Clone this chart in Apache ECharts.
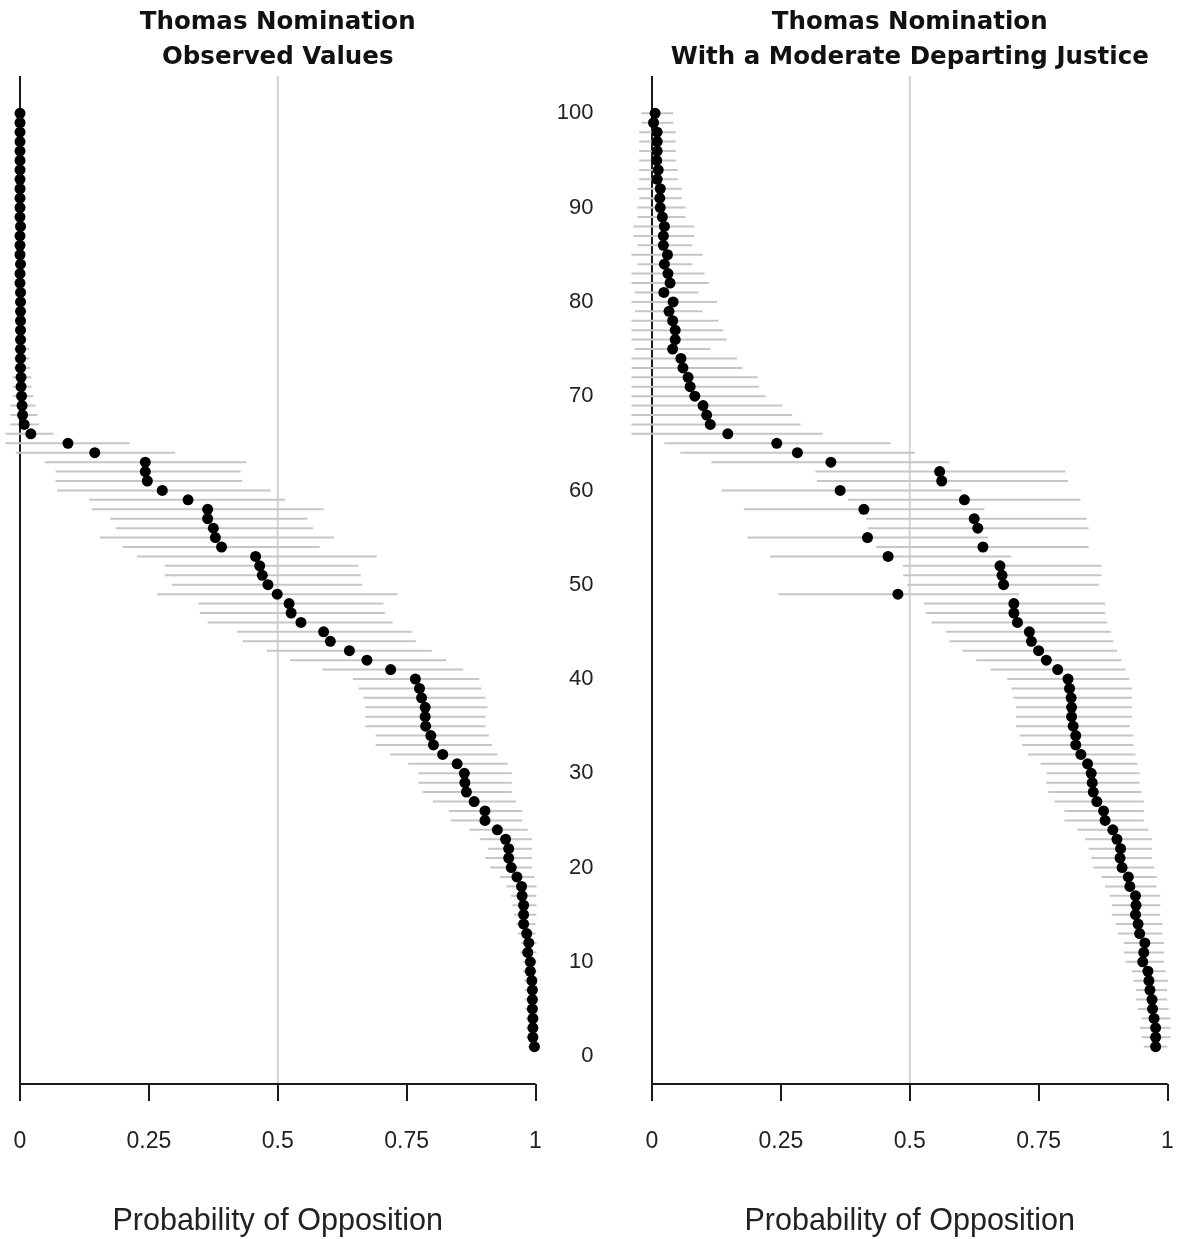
<!DOCTYPE html>
<html>
<head>
<meta charset="utf-8">
<script src="https://cdn.jsdelivr.net/npm/echarts@6/dist/echarts.min.js"></script>
<style>
  html, body { margin: 0; padding: 0; background: #fff; }
  #chart { width: 1177px; height: 1239px; }
</style>
</head>
<body>
<div id="chart"></div>
<script>
// Senators ranked 1 (bottom) to 100 (top); each array is listed from rank 1 upward.

// Observed values: predicted probability of opposing the Thomas nomination
const observedProb = [
  0.998, 0.995, 0.995, 0.995, 0.994, 0.994, 0.994, 0.993, 0.990, 0.990,
  0.985, 0.987, 0.983, 0.977, 0.977, 0.977, 0.974, 0.973, 0.964, 0.953,
  0.948, 0.948, 0.942, 0.926, 0.902, 0.902, 0.881, 0.866, 0.863, 0.862,
  0.848, 0.820, 0.802, 0.797, 0.787, 0.786, 0.786, 0.779, 0.775, 0.767,
  0.719, 0.673, 0.639, 0.602, 0.589, 0.545, 0.526, 0.522, 0.499, 0.481,
  0.470, 0.465, 0.457, 0.391, 0.379, 0.375, 0.364, 0.364, 0.326, 0.276,
  0.247, 0.243, 0.243, 0.145, 0.093, 0.021, 0.008, 0.005, 0.004, 0.003,
  0.002, 0.002, 0.001, 0.001, 0.001, 0.001, 0.001, 0.001, 0.001, 0.001,
  0.001, 0.000, 0.000, 0.001, 0.000, 0.000, 0.000, 0.001, 0.000, 0.000,
  0.000, 0.000, 0.000, 0.000, 0.000, 0.000, 0.000, 0.000, 0.000, 0.000
];
const observedLow = [
  0.985, 0.982, 0.982, 0.981, 0.980, 0.980, 0.979, 0.978, 0.976, 0.975,
  0.970, 0.972, 0.966, 0.962, 0.959, 0.955, 0.952, 0.944, 0.931, 0.912,
  0.903, 0.908, 0.892, 0.872, 0.836, 0.832, 0.801, 0.781, 0.773, 0.773,
  0.753, 0.718, 0.690, 0.690, 0.670, 0.670, 0.670, 0.666, 0.657, 0.646,
  0.587, 0.524, 0.479, 0.432, 0.421, 0.364, 0.349, 0.346, 0.266, 0.294,
  0.281, 0.281, 0.227, 0.199, 0.155, 0.186, 0.175, 0.139, 0.134, 0.072,
  0.069, 0.069, 0.048, -0.008, -0.028, -0.028, -0.019, -0.019, -0.019, -0.014,
  -0.014, -0.014, -0.011, -0.011, -0.011, -0.008, -0.007, -0.006, -0.005, -0.004,
  -0.004, -0.003, -0.003, -0.003, -0.003, -0.003, -0.002, -0.002, -0.002, -0.002,
  -0.002, -0.002, -0.002, -0.002, -0.002, -0.002, -0.002, -0.002, -0.002, -0.002
];
const observedHigh = [
  1.000, 1.001, 1.001, 1.001, 1.002, 1.002, 1.002, 1.002, 1.002, 1.002,
  1.002, 1.002, 1.000, 1.000, 1.002, 1.002, 1.002, 1.002, 0.998, 0.993,
  0.993, 0.993, 0.993, 0.985, 0.974, 0.974, 0.962, 0.954, 0.954, 0.954,
  0.946, 0.926, 0.915, 0.910, 0.903, 0.903, 0.907, 0.903, 0.895, 0.891,
  0.860, 0.827, 0.799, 0.768, 0.760, 0.723, 0.708, 0.705, 0.732, 0.664,
  0.661, 0.656, 0.692, 0.581, 0.609, 0.569, 0.557, 0.589, 0.514, 0.486,
  0.431, 0.428, 0.439, 0.301, 0.213, 0.065, 0.037, 0.034, 0.030, 0.026,
  0.022, 0.022, 0.020, 0.018, 0.017, 0.012, 0.011, 0.010, 0.008, 0.007,
  0.006, 0.005, 0.005, 0.005, 0.004, 0.004, 0.004, 0.004, 0.003, 0.003,
  0.003, 0.003, 0.003, 0.003, 0.003, 0.003, 0.003, 0.003, 0.003, 0.003
];

// Counterfactual: a moderate justice departing the Court
const moderateProb = [
  0.977, 0.977, 0.977, 0.974, 0.971, 0.970, 0.966, 0.964, 0.962, 0.952,
  0.954, 0.956, 0.946, 0.943, 0.938, 0.939, 0.938, 0.927, 0.924, 0.912,
  0.908, 0.909, 0.902, 0.894, 0.879, 0.876, 0.863, 0.856, 0.854, 0.852,
  0.845, 0.832, 0.822, 0.822, 0.817, 0.814, 0.814, 0.813, 0.810, 0.807,
  0.787, 0.765, 0.750, 0.736, 0.732, 0.709, 0.702, 0.702, 0.477, 0.682,
  0.679, 0.675, 0.458, 0.642, 0.418, 0.632, 0.625, 0.411, 0.606, 0.365,
  0.562, 0.558, 0.347, 0.282, 0.242, 0.147, 0.113, 0.106, 0.099, 0.083,
  0.074, 0.070, 0.060, 0.056, 0.040, 0.045, 0.045, 0.040, 0.033, 0.041,
  0.023, 0.035, 0.031, 0.024, 0.030, 0.022, 0.022, 0.024, 0.020, 0.016,
  0.015, 0.016, 0.010, 0.012, 0.009, 0.010, 0.010, 0.010, 0.003, 0.006
];
const moderateLow = [
  0.954, 0.950, 0.946, 0.950, 0.943, 0.939, 0.939, 0.934, 0.931, 0.919,
  0.915, 0.915, 0.904, 0.900, 0.892, 0.892, 0.888, 0.879, 0.872, 0.856,
  0.852, 0.847, 0.840, 0.825, 0.800, 0.800, 0.781, 0.769, 0.765, 0.765,
  0.754, 0.729, 0.718, 0.713, 0.706, 0.706, 0.706, 0.701, 0.697, 0.689,
  0.657, 0.629, 0.602, 0.577, 0.570, 0.542, 0.531, 0.527, 0.245, 0.495,
  0.487, 0.487, 0.229, 0.435, 0.185, 0.419, 0.415, 0.178, 0.380, 0.135,
  0.320, 0.317, 0.115, 0.055, 0.024, -0.045, -0.045, -0.045, -0.045, -0.045,
  -0.045, -0.045, -0.045, -0.045, -0.033, -0.045, -0.045, -0.045, -0.033, -0.045,
  -0.033, -0.045, -0.045, -0.028, -0.045, -0.028, -0.036, -0.036, -0.028, -0.028,
  -0.025, -0.028, -0.025, -0.025, -0.025, -0.025, -0.025, -0.025, -0.020, -0.021
];
const moderateHigh = [
  1.000, 1.006, 1.006, 1.006, 1.002, 0.999, 0.999, 1.001, 0.997, 0.993,
  0.993, 0.993, 0.990, 0.990, 0.986, 0.986, 0.986, 0.979, 0.979, 0.974,
  0.970, 0.970, 0.970, 0.963, 0.954, 0.954, 0.954, 0.950, 0.946, 0.946,
  0.942, 0.938, 0.934, 0.934, 0.927, 0.931, 0.931, 0.931, 0.931, 0.926,
  0.918, 0.911, 0.902, 0.895, 0.890, 0.883, 0.879, 0.879, 0.712, 0.867,
  0.872, 0.872, 0.697, 0.847, 0.652, 0.847, 0.843, 0.645, 0.831, 0.601,
  0.807, 0.802, 0.577, 0.510, 0.463, 0.331, 0.288, 0.272, 0.253, 0.220,
  0.208, 0.205, 0.176, 0.165, 0.113, 0.145, 0.138, 0.129, 0.098, 0.126,
  0.090, 0.110, 0.102, 0.078, 0.098, 0.078, 0.082, 0.082, 0.065, 0.065,
  0.058, 0.058, 0.050, 0.050, 0.046, 0.046, 0.046, 0.046, 0.041, 0.041
];

const panelTitles = [
  'Thomas Nomination\nObserved Values',
  'Thomas Nomination\nWith a Moderate Departing Justice'
];
const xTickValues = [0, 0.25, 0.5, 0.75, 1];
const yTickValues = [0, 10, 20, 30, 40, 50, 60, 70, 80, 90, 100];
const referenceLines = [0, 0.5];
const xAxisTitle = 'Probability of Opposition';

// Plot ranges padded by 4% beyond the data, as in base R graphics
const X_MIN = -0.04, X_MAX = 1.04;
const Y_MIN = -2.96, Y_MAX = 103.96;

const chart = echarts.init(document.getElementById('chart'), null, { renderer: 'canvas' });

const gridLefts = [-0.6, 631.4];
const GRID_W = 556.7, GRID_TOP = 76, GRID_H = 1008;

const labelFont = '"Liberation Sans", Arial, sans-serif';

function rankPoints(values) {
  return values.map((v, k) => [v, k + 1]);
}

function intervalSeries(idx, lows, highs) {
  return {
    type: 'custom',
    xAxisIndex: idx,
    yAxisIndex: idx,
    silent: true,
    z: 2,
    data: lows.map((lo, k) => [lo, highs[k], k + 1]),
    encode: { x: [0, 1], y: 2 },
    renderItem: function (params, api) {
      const cs = params.coordSys;
      const a = api.coord([api.value(0), api.value(2)]);
      const b = api.coord([api.value(1), api.value(2)]);
      const x1 = Math.max(a[0], cs.x);
      const x2 = Math.min(b[0], cs.x + cs.width);
      return {
        type: 'line',
        shape: { x1: x1, y1: a[1], x2: x2, y2: b[1] },
        style: { stroke: '#c6c6c6', lineWidth: 2 }
      };
    }
  };
}

function referenceSeries(idx) {
  return {
    type: 'custom',
    xAxisIndex: idx,
    yAxisIndex: idx,
    silent: true,
    z: 1,
    data: referenceLines.map(v => [v]),
    encode: { x: 0 },
    renderItem: function (params, api) {
      const v = api.value(0);
      const top = api.coord([v, Y_MAX]);
      const bottom = api.coord([v, Y_MIN]);
      return {
        type: 'line',
        shape: { x1: top[0], y1: top[1], x2: bottom[0], y2: bottom[1] },
        style: v === 0 ? { stroke: '#1a1a1a', lineWidth: 2 } : { stroke: '#d2d2d2', lineWidth: 2 }
      };
    }
  };
}

// Bottom axis line, spanning only the tick range 0..1
function baselineSeries(idx) {
  return {
    type: 'custom',
    xAxisIndex: idx,
    yAxisIndex: idx,
    silent: true,
    z: 3,
    data: [[xTickValues[0], xTickValues[xTickValues.length - 1]]],
    encode: { x: [0, 1] },
    renderItem: function (params, api) {
      const a = api.coord([api.value(0), Y_MIN]);
      const b = api.coord([api.value(1), Y_MIN]);
      return {
        type: 'line',
        shape: { x1: a[0], y1: a[1], x2: b[0], y2: b[1] },
        style: { stroke: '#1a1a1a', lineWidth: 2 }
      };
    }
  };
}

function pointSeries(idx, values) {
  return {
    type: 'scatter',
    xAxisIndex: idx,
    yAxisIndex: idx,
    symbol: 'circle',
    symbolSize: 11,
    itemStyle: { color: '#000', opacity: 1 },
    z: 4,
    data: rankPoints(values)
  };
}

const option = {
  animation: false,
  backgroundColor: '#fff',
  title: panelTitles.map((t, i) => ({
    text: t,
    left: gridLefts[i] + GRID_W / 2,
    top: 5,
    padding: 0,
    textAlign: 'center',
    textStyle: {
      fontFamily: '"DejaVu Sans", Verdana, sans-serif',
      fontWeight: 'bold',
      fontSize: 24.5,
      lineHeight: 35,
      color: '#111'
    }
  })),
  grid: gridLefts.map(l => ({
    left: l, top: GRID_TOP, width: GRID_W, height: GRID_H,
    containLabel: false, outerBoundsMode: 'none'
  })),
  xAxis: gridLefts.map((l, i) => ({
    type: 'value',
    gridIndex: i,
    min: X_MIN,
    max: X_MAX,
    axisLine: { show: false, onZero: false },
    splitLine: { show: false },
    axisTick: {
      show: true,
      inside: false,
      customValues: xTickValues,
      length: 17,
      lineStyle: { color: '#1a1a1a', width: 2 }
    },
    axisLabel: {
      show: true,
      customValues: xTickValues,
      margin: 46,
      fontFamily: labelFont,
      fontSize: 23,
      color: '#222',
      formatter: v => String(v)
    },
    name: xAxisTitle,
    nameLocation: 'middle',
    nameGap: 122,
    nameTextStyle: { fontFamily: labelFont, fontSize: 30.5, color: '#222' }
  })),
  yAxis: gridLefts.map((l, i) => ({
    type: 'value',
    gridIndex: i,
    min: Y_MIN,
    max: Y_MAX,
    axisLine: { show: false, onZero: false },
    axisTick: { show: false },
    splitLine: { show: false },
    axisLabel: {
      show: i === 1,
      customValues: yTickValues,
      margin: 38,
      fontFamily: labelFont,
      fontSize: 22,
      color: '#222'
    }
  })),
  series: [
    referenceSeries(0),
    intervalSeries(0, observedLow, observedHigh),
    baselineSeries(0),
    pointSeries(0, observedProb),
    referenceSeries(1),
    intervalSeries(1, moderateLow, moderateHigh),
    baselineSeries(1),
    pointSeries(1, moderateProb)
  ]
};

chart.setOption(option);
</script>
</body>
</html>
